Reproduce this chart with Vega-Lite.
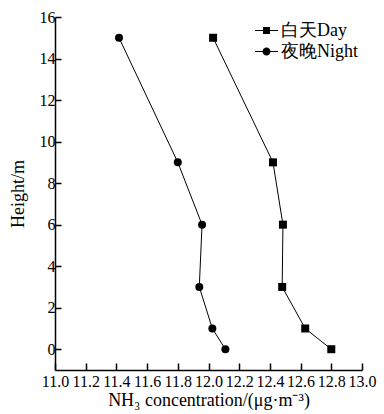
{
  "$schema": "https://vega.github.io/schema/vega-lite/v6.json",
  "autosize": "none",
  "width": 307,
  "height": 353,
  "padding": {"left": 55, "top": 17, "right": 22, "bottom": 44},
  "background": "white",
  "config": {
    "view": {"stroke": null},
    "font": "Liberation Serif",
    "axis": {
      "grid": false,
      "domainColor": "black",
      "domainWidth": 1.5,
      "tickColor": "black",
      "tickWidth": 1.5,
      "labelColor": "black",
      "titleColor": "black",
      "labelFont": "Liberation Serif",
      "titleFont": "Liberation Serif",
      "labelFontSize": 16,
      "titleFontSize": 18,
      "titleFontWeight": "normal",
      "labelFlush": false
    },
    "legend": {"labelFont": "Liberation Serif"}
  },
  "data": {
    "values": [
      {"series": "白天Day", "conc": 12.80, "height": 0},
      {"series": "白天Day", "conc": 12.63, "height": 1},
      {"series": "白天Day", "conc": 12.48, "height": 3},
      {"series": "白天Day", "conc": 12.485, "height": 6},
      {"series": "白天Day", "conc": 12.42, "height": 9},
      {"series": "白天Day", "conc": 12.03, "height": 15},
      {"series": "夜晚Night", "conc": 12.11, "height": 0},
      {"series": "夜晚Night", "conc": 12.025, "height": 1},
      {"series": "夜晚Night", "conc": 11.94, "height": 3},
      {"series": "夜晚Night", "conc": 11.958, "height": 6},
      {"series": "夜晚Night", "conc": 11.80, "height": 9},
      {"series": "夜晚Night", "conc": 11.417, "height": 15}
    ]
  },
  "encoding": {
    "x": {
      "field": "conc", "type": "quantitative",
      "scale": {"domain": [11, 13], "nice": false, "zero": false},
      "axis": {
        "values": [11.0, 11.2, 11.4, 11.6, 11.8, 12.0, 12.2, 12.4, 12.6, 12.8, 13.0],
        "format": ".1f", "tickSize": -7, "labelPadding": 10, "labelOverlap": false,
        "title": "NH₃ concentration/(μg·m⁻³)", "titlePadding": 2
      }
    },
    "y": {
      "field": "height", "type": "quantitative",
      "scale": {"domain": [-1, 16], "nice": false, "zero": false},
      "axis": {
        "values": [0, 2, 4, 6, 8, 10, 12, 14, 16],
        "tickSize": -6, "labelPadding": 6,
        "title": "Height/m", "titlePadding": 12
      }
    }
  },
  "layer": [
    {
      "mark": {"type": "line", "color": "black", "strokeWidth": 1},
      "encoding": {
        "detail": {"field": "series"},
        "order": {"field": "height", "type": "quantitative"}
      }
    },
    {
      "transform": [{"filter": "datum.series === '白天Day'"}],
      "mark": {"type": "point", "shape": "square", "filled": true, "color": "black", "opacity": 1, "size": 64, "strokeWidth": 0}
    },
    {
      "transform": [{"filter": "datum.series === '夜晚Night'"}],
      "mark": {"type": "point", "shape": "circle", "filled": true, "color": "black", "opacity": 1, "size": 64, "strokeWidth": 0}
    },
    {
      "mark": {"type": "point", "filled": true, "color": "black", "opacity": 0, "size": 1, "strokeWidth": 0},
      "encoding": {
        "shape": {
          "field": "series", "type": "nominal",
          "scale": {"domain": ["白天Day", "夜晚Night"], "range": ["M-1,-0.045H1V0.045H-1Z M-0.3,-0.3H0.3V0.3H-0.3Z", "M-1,-0.045H1V0.045H-1Z M-0.35,0A0.35,0.35 0 1,1 0.35,0A0.35,0.35 0 1,1 -0.35,0Z"]},
          "legend": {
            "title": null,
            "orient": "none",
            "legendX": 200,
            "legendY": 2,
            "symbolSize": 529,
            "symbolOpacity": 1,
            "symbolFillColor": "black",
            "symbolStrokeWidth": 0,
            "labelFontSize": 18,
            "labelColor": "black",
            "labelOffset": 3,
            "rowPadding": 0,
            "encode": {
              "symbols": {
                "fill": {"value": "black"},
                "opacity": {"value": 1}
              }
            }
          }
        }
      }
    }
  ]
}
